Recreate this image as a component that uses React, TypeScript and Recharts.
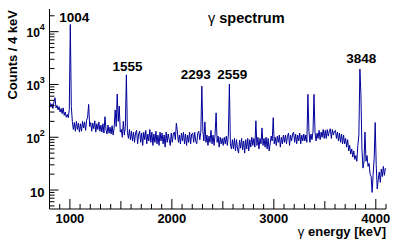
import { LineChart, Line, XAxis, YAxis, ReferenceDot } from 'recharts';

// 10 keV wide bins, first bin centred at 804 keV
const BIN_START = 804;
const BIN_WIDTH = 10;

// counts per bin (one row = 100 keV)
const counts800to1300 = [
  460, 370, 430, 350, 470, 560, 360, 400, 330, 380,
  300, 350, 280, 360, 260, 300, 240, 270, 235, 330,
  13700, 380, 200, 140, 190, 130, 200, 140, 185, 125,
  180, 130, 200, 150, 195, 135, 210, 240, 420, 160,
  190, 130, 185, 145, 205, 125, 180, 140, 195, 130,
];
const counts1300to1800 = [
  170, 125, 180, 120, 245, 140, 115, 170, 120, 155,
  115, 165, 110, 150, 330, 160, 660, 200, 390, 125,
  140, 100, 200, 110, 160, 1520, 125, 95, 140, 90,
  130, 85, 125, 80, 120, 135, 75, 115, 130, 80,
  120, 70, 125, 90, 135, 75, 115, 85, 140, 80,
];
const counts1800to2300 = [
  125, 70, 115, 80, 130, 75, 110, 70, 125, 85,
  120, 75, 110, 65, 125, 80, 115, 90, 70, 120,
  80, 115, 125, 90, 185, 130, 80, 110, 75, 120,
  85, 125, 75, 115, 70, 110, 80, 125, 75, 115,
  120, 80, 125, 85, 75, 120, 130, 90, 125, 930,
];
const counts2300to2800 = [
  130, 85, 195, 80, 110, 70, 105, 80, 135, 75,
  110, 70, 115, 290, 80, 105, 65, 100, 75, 95,
  70, 100, 75, 105, 70, 110, 1020, 75, 60, 90,
  60, 95, 55, 90, 60, 50, 88, 62, 95, 58,
  85, 50, 90, 60, 95, 55, 90, 65, 100, 70,
];
const counts2800to3300 = [
  95, 65, 205, 70, 100, 60, 95, 75, 150, 70,
  95, 65, 100, 60, 95, 55, 75, 105, 85, 235,
  75, 100, 70, 105, 80, 110, 65, 100, 75, 110,
  80, 110, 75, 105, 120, 70, 110, 85, 115, 125,
  80, 115, 75, 110, 85, 120, 75, 110, 85, 115,
];
const counts3300to3800 = [
  85, 110, 80, 650, 130, 80, 115, 90, 125, 650,
  125, 85, 120, 95, 135, 90, 125, 100, 140, 95,
  135, 95, 140, 105, 130, 145, 95, 140, 110, 130,
  135, 95, 125, 85, 120, 80, 115, 75, 110, 75,
  95, 65, 90, 55, 70, 48, 60, 42, 55, 38,
];
const counts3800to4100 = [
  45, 35, 70, 110, 1960, 650, 60, 26, 34, 125,
  35, 45, 28, 32, 20, 18, 9, 20, 40, 190,
  30, 10.5, 16, 22, 14, 25, 18, 28, 19, 26,
];

// labelled lines
const peakEnergies = [1004, 1555, 2293, 2559, 3848];
const peakHeights = [13700, 1520, 930, 1020, 1960];

const xTicks = [
  800, 900, 1000, 1100, 1200, 1300, 1400, 1500, 1600, 1700, 1800, 1900,
  2000, 2100, 2200, 2300, 2400, 2500, 2600, 2700, 2800, 2900,
  3000, 3100, 3200, 3300, 3400, 3500, 3600, 3700, 3800, 3900,
  4000, 4100,
];
const yTicks = [
  5, 6, 7, 8, 9,
  10, 20, 30, 40, 50, 60, 70, 80, 90,
  100, 200, 300, 400, 500, 600, 700, 800, 900,
  1000, 2000, 3000, 4000, 5000, 6000, 7000, 8000, 9000,
  10000, 20000,
];

const allCounts = [
  ...counts800to1300,
  ...counts1300to1800,
  ...counts1800to2300,
  ...counts2300to2800,
  ...counts2800to3300,
  ...counts3300to3800,
  ...counts3800to4100,
];
const data = allCounts.map((c, i) => ({ energy: BIN_START + i * BIN_WIDTH, counts: c }));

const FONT = '"Liberation Sans", Arial, Helvetica, sans-serif';
const LINE_COLOR = '#000099';

// pixel nudges for the peak labels (ROOT-style hand placement)
const labelNudge = [
  { dx: 4, gap: 2 },
  { dx: 1, gap: 4 },
  { dx: -6, gap: 7 },
  { dx: 3.5, gap: 5 },
  { dx: 1, gap: 6 },
];

function XTick(props: any) {
  const { x, y, payload } = props;
  const v = payload.value;
  const len = v % 1000 === 0 ? 10 : v % 500 === 0 ? 8 : 5;
  return (
    <g>
      <line x1={x} x2={x} y1={y} y2={y - len} stroke="#000" strokeWidth={1} />
      {v % 1000 === 0 && (
        <text x={x} y={y + 13.5} textAnchor="middle" fontSize={13} fontWeight="bold" fontFamily={FONT} fill="#000">
          {v}
        </text>
      )}
    </g>
  );
}

function YTick(props: any) {
  const { x, y, payload } = props;
  const v = payload.value;
  const lg = Math.log10(v);
  const exp = Math.round(lg);
  const major = Math.abs(lg - exp) < 1e-6;
  return (
    <g>
      <line x1={x} x2={x + (major ? 9 : 5)} y1={y} y2={y} stroke="#000" strokeWidth={1} />
      {major && exp === 1 && (
        <text x={x - 5} y={y + 6.5} textAnchor="end" fontSize={13} fontWeight="bold" fontFamily={FONT} fill="#000">
          10
        </text>
      )}
      {major && exp > 1 && (
        <text x={x - 23} y={y + 5.5} fontSize={12} fontWeight="bold" fontFamily={FONT} fill="#000">
          10
          <tspan dy={-6.8} fontSize={9}>
            {exp}
          </tspan>
        </text>
      )}
    </g>
  );
}

export default function App() {
  return (
    <div style={{ position: 'absolute', left: 0, top: 0, width: 415, height: 246, background: '#fff' }}>
      <LineChart width={415} height={246} data={data} margin={{ top: 9, right: 29, bottom: 0, left: 0 }}>
        <XAxis
          dataKey="energy"
          type="number"
          domain={[800, 4100]}
          allowDataOverflow
          ticks={xTicks}
          interval={0}
          height={37}
          tickSize={0}
          tickMargin={0}
          tickLine={false}
          axisLine={{ stroke: '#000' }}
          tick={(p: any) => <XTick {...p} />}
        />
        <XAxis xAxisId="top" orientation="top" height={0} tick={false} tickLine={false} axisLine={{ stroke: '#000' }} />
        <YAxis
          scale="log"
          type="number"
          domain={[4.37, 26900]}
          allowDataOverflow
          ticks={yTicks}
          interval={0}
          width={49.5}
          tickSize={0}
          tickMargin={0}
          tickLine={false}
          axisLine={{ stroke: '#000' }}
          tick={(p: any) => <YTick {...p} />}
        />
        <YAxis yAxisId="right" orientation="right" width={0} tick={false} tickLine={false} axisLine={{ stroke: '#000' }} />
        <Line
          type="linear"
          dataKey="counts"
          stroke={LINE_COLOR}
          strokeWidth={1}
          dot={false}
          isAnimationActive={false}
        />
        {peakEnergies.map((e, i) => (
          <ReferenceDot
            key={e}
            x={e}
            y={peakHeights[i]}
            r={0}
            fill="none"
            stroke="none"
            label={(p: any) => {
              const vb = p.viewBox || p;
              return (
                <text
                  x={vb.x + labelNudge[i].dx}
                  y={vb.y - labelNudge[i].gap}
                  textAnchor="middle"
                  fontSize={13.5}
                  fontWeight="bold"
                  fontFamily={FONT}
                  fill="#000"
                >
                  {e}
                </text>
              );
            }}
          />
        ))}
      </LineChart>
      <svg width={415} height={246} style={{ position: 'absolute', left: 0, top: 0, pointerEvents: 'none' }}>
        <text x={208} y={23} fontSize={14.5} fontWeight="bold" fontFamily={FONT} fill="#000">
          <tspan fontWeight="normal">γ</tspan> spectrum
        </text>
        <text x={386} y={235.5} textAnchor="end" fontSize={13} fontWeight="bold" fontFamily={FONT} fill="#000">
          <tspan fontWeight="normal">γ</tspan> energy [keV]
        </text>
        <text
          x={16.5}
          y={10}
          textAnchor="end"
          transform="rotate(-90 16.5 10)"
          fontSize={13}
          fontWeight="bold"
          fontFamily={FONT}
          fill="#000"
        >
          Counts / 4 keV
        </text>
      </svg>
    </div>
  );
}
